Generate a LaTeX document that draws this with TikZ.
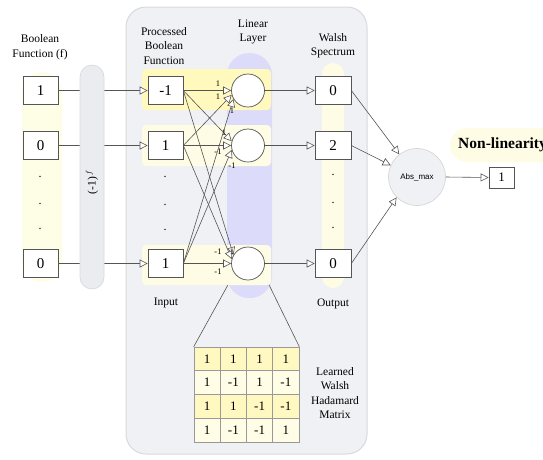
\documentclass[tikz,border=0pt]{standalone}
\usepackage{fontspec}
\setmainfont{Liberation Serif}
\newfontfamily\absfont{Liberation Sans}
\usetikzlibrary{arrows.meta,calc}
\definecolor{panelfill}{HTML}{F0F1F4}
\definecolor{panelline}{HTML}{D7D9DE}
\definecolor{pillgray}{HTML}{EBECF0}
\definecolor{yellowlight}{HTML}{FEFDE6}
\definecolor{yellowband}{HTML}{FFF9BE}
\definecolor{yellowsoft}{HTML}{FEFCE4}
\definecolor{bluepill}{HTML}{DCDCFA}
\definecolor{boxline}{HTML}{555555}
\definecolor{linkc}{HTML}{555555}
\definecolor{gridc}{HTML}{999999}
\definecolor{rowa}{HTML}{FFF8C0}
\definecolor{rowb}{HTML}{FFFDE6}
\definecolor{absfill}{HTML}{F0F1F4}
\definecolor{absline}{HTML}{D5D7DB}
\begin{document}
\begin{tikzpicture}[x=1pt,y=-1pt,
  numbox/.style={draw=boxline, fill=white, line width=0.7pt, minimum width=35pt, minimum height=28pt, inner sep=0pt, font=\fontsize{15}{15}\selectfont},
  neuron/.style={circle, draw=boxline, fill=white, line width=0.7pt, minimum size=33pt, inner sep=0pt},
  link/.style={draw=linkc, line width=0.6pt, -{Triangle[length=8pt,width=8pt,fill=white]}},
  plainlink/.style={draw=linkc, line width=0.6pt},
  wlabel/.style={font=\fontsize{8.5}{9}\selectfont, inner sep=0pt},
  caption/.style={align=center, font=\fontsize{11.5}{14.5}\selectfont, inner sep=0pt},
  vdot/.style={font=\fontsize{12}{12}\selectfont, inner sep=0pt},
  cell/.style={draw=gridc, line width=0.6pt, minimum width=26.25pt, minimum height=23.75pt, inner sep=0pt, font=\fontsize{13}{13}\selectfont}
]
\useasboundingbox (0,0) rectangle (543,459);

% backgrounds
\draw[fill=panelfill, draw=panelline, line width=1pt, rounded corners=20pt] (126,7) rectangle (367,454);
\fill[yellowlight, rounded corners=20pt] (22,72) rectangle (62,282);
\node[fill=bluepill, rounded corners=22pt, minimum width=45pt, minimum height=245pt, inner sep=0pt] (lin) at (249.5,175.5) {};
\fill[yellowband, rounded corners=4pt] (142,69) rectangle (271,110);
\fill[yellowsoft, rounded corners=4pt] (142,125) rectangle (271,166);
\fill[yellowsoft, rounded corners=4pt] (142,245) rectangle (271,285);
\fill[yellowsoft, rounded corners=11pt] (322,63) rectangle (344,288);
\fill[yellowsoft, rounded corners=17pt] (450,128) rectangle (580,162);

% captions
\node[caption] (tbf) at (40,47) {Boolean\\Function (f)};
\node[caption] (tpb) at (164,46) {Processed\\Boolean\\Function};
\node[caption] (tll) at (253,32) {Linear\\Layer};
\node[caption] (tws) at (333,45.5) {Walsh\\Spectrum};
\node[caption] (tin) at (166,303) {Input};
\node[caption] (tout) at (333,304) {Output};
\node[caption] (tmat) at (335,393) {Learned\\Walsh\\Hadamard\\Matrix};
\node[anchor=west, inner sep=0pt, font=\fontsize{15.5}{15.5}\selectfont\bfseries] (tnl) at (458,145) {Non-linearity};

% boolean function boxes
\node[numbox] (bf1) at (40.5,90.5) {1};
\node[numbox] (bf2) at (40.5,145.5) {0};
\node[numbox] (bf3) at (40.5,263.5) {0};
\node[vdot] (bd1) at (40,177) {.};
\node[vdot] (bd2) at (40,204) {.};
\node[vdot] (bd3) at (40,229) {.};

% processed boxes
\node[numbox] (pb1) at (165.5,90.5) {-1};
\node[numbox] (pb2) at (165.5,145.5) {1};
\node[numbox] (pb3) at (165.5,263.5) {1};
\node[vdot] (pd1) at (165,177) {.};
\node[vdot] (pd2) at (165,205) {.};
\node[vdot] (pd3) at (165,230) {.};

% neurons
\node[neuron] (c1) at (248,90.5) {};
\node[neuron] (c2) at (248,145.5) {};
\node[neuron] (c3) at (248,263.5) {};

% walsh spectrum boxes
\node[numbox, minimum width=36pt] (ws1) at (333,90.5) {0};
\node[numbox, minimum width=36pt] (ws2) at (333,145.5) {2};
\node[numbox, minimum width=36pt] (ws3) at (333,263.5) {0};
\node[vdot] (wd1) at (333,175) {.};
\node[vdot] (wd2) at (333,203) {.};
\node[vdot] (wd3) at (333,228) {.};

% abs max and output
\node[circle, fill=absfill, draw=absline, line width=0.7pt, minimum size=57pt, inner sep=0pt, font=\absfont\fontsize{8}{8}\selectfont] (abs) at (417,177) {Abs\_max};
\node[draw=boxline, fill=white, line width=0.7pt, minimum width=25pt, minimum height=21pt, inner sep=0pt, font=\fontsize{13}{13}\selectfont] (out) at (501.5,177.5) {1};

% input connectors (pill drawn over them)
\draw[link] (bf1.east) -- (pb1.west);
\draw[link] (bf2.east) -- (pb2.west);
\draw[link] (bf3.east) -- (pb3.west);
\node[fill=pillgray, draw=panelline, line width=0.7pt, rounded corners=12pt, minimum width=24pt, minimum height=224pt, inner sep=0pt] (pw) at (92,177) {};
\node[rotate=90, inner sep=0pt, font=\fontsize{11.5}{11.5}\selectfont] (pwt) at (92,182) {(-1)$^{\,f}$};

% dense layer connectors
\draw[link] (pb1.east) -- (c1.180);
\draw[link] (pb2.east) -- (c1.195);
\draw[link] (pb3.east) -- (c1.210);
\draw[link] (pb1.east) -- (c2.165);
\draw[link] (pb2.east) -- (c2.180);
\draw[link] (pb3.east) -- (c2.195);
\draw[link] (pb1.east) -- (c3.150);
\draw[link] (pb2.east) -- (c3.165);
\draw[link] (pb3.east) -- (c3.180);

% weight labels
\node[wlabel] (w11) at (218,84) {1};
\node[wlabel] (w21) at (218,97) {1};
\node[wlabel] (w31) at (232,111) {1};
\node[wlabel] (w12) at (224,133) {1};
\node[wlabel] (w22) at (218,152) {-1};
\node[wlabel] (w32) at (232,166) {-1};
\node[wlabel] (w13) at (218,252) {-1};
\node[wlabel] (w23) at (232,252) {1};
\node[wlabel] (w33) at (218,272) {-1};

% neuron to walsh
\draw[link] (c1.east) -- (ws1.west);
\draw[link] (c2.east) -- (ws2.west);
\draw[link] (c3.east) -- (ws3.west);

% walsh to abs max
\draw[link] (ws1.east) -- (abs.128);
\draw[link] (ws2.east) -- (abs.156);
\draw[link] (ws3.east) -- (abs.225);
\draw[link] (abs.east) -- (out.west);

% matrix
\foreach \r/\col/\vals in {1/rowa/{1,1,1,1},2/rowb/{1,-1,1,-1},3/rowa/{1,1,-1,-1},4/rowb/{1,-1,-1,1}}{
  \foreach \v [count=\c] in \vals {
    \node[cell, fill=\col] (m\r\c) at ({194+26.25*(\c-0.5)},{347+23.75*(\r-0.5)}) {\v};
  }
}
\draw[plainlink] ([xshift=1pt,yshift=13pt]lin.south west) -- (m11.north west);
\draw[plainlink] ([xshift=-3pt,yshift=13pt]lin.south east) -- (m14.north east);
\end{tikzpicture}
\end{document}
